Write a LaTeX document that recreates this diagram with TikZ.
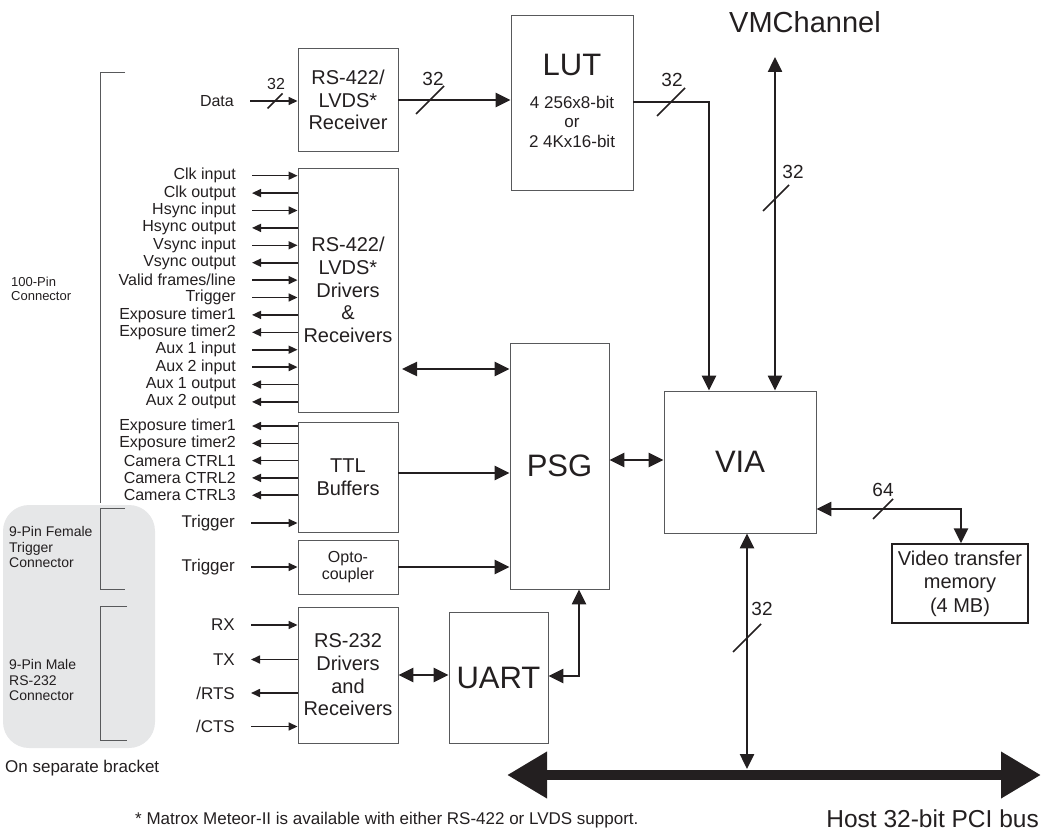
\documentclass[tikz,border=0pt]{standalone}
\usepackage{fontspec}
\setmainfont{Liberation Sans}
\usepackage{tikz}
\usetikzlibrary{arrows.meta,positioning,calc}
\definecolor{mxink}{HTML}{231F20}
\definecolor{mxedge}{HTML}{58595B}
\definecolor{mxgray}{HTML}{E6E7E8}
\newcommand{\fs}[2]{\fontsize{#1}{#2}\selectfont}

\begin{document}
\begin{tikzpicture}[x=1pt,y=-1pt,color=mxink,
  blk/.style={rectangle,draw=mxedge,line width=0.9pt,align=center,inner sep=0pt,font=\fs{20}{22.7}},
  sl/.style={anchor=east,inner sep=0pt,font=\fs{16}{17}},
  sigin/.style={-{Triangle[length=9pt,width=8pt]},line width=1.6pt,shorten <=16pt},
  sigout/.style={-{Triangle[length=9pt,width=8pt]},line width=1.6pt,shorten >=16pt},
  ar/.style={-{Triangle[length=15pt,width=14pt]},line width=2.5pt},
  bus/.style={{Triangle[length=15pt,width=14pt]}-{Triangle[length=15pt,width=14pt]},line width=2.5pt},
  cut/.style={line width=1.6pt},
  bw/.style={inner sep=0pt,font=\fs{19}{19}},
  brk/.style={draw=mxedge,line width=1pt},
  conn/.style={anchor=west,align=left,inner sep=0pt}]
  \useasboundingbox (0,0) rectangle (1041,837);
  % separate bracket area
  \fill[mxgray,rounded corners=26pt] (3,505) rectangle (155,748);
  \draw[brk] (125,73) -- (100,73) -- (100,503);
  \draw[brk] (125,508) -- (100,508) -- (100,589) -- (125,589);
  \draw[brk] (127,606) -- (100,606) -- (100,740) -- (127,740);
  \node[conn,font=\fs{13}{13.5}] (c100) at (11,289) {100-Pin\\Connector};
  \node[conn,font=\fs{14}{15.5}] (c9f) at (9,547) {9-Pin Female\\Trigger\\Connector};
  \node[conn,font=\fs{14}{15.5}] (c9m) at (9,680) {9-Pin Male\\RS-232\\Connector};
  \node[conn,font=\fs{17}{17}] (sep) at (5,768) {On separate bracket};
  % blocks
  \node[blk,minimum width=100pt,minimum height=103pt] (rcv) at (348,100) {RS-422/\\LVDS*\\Receiver};
  \node[blk,minimum width=122pt,minimum height=175pt] (lut) at (572,102.5) {};
  \node[font=\fs{31}{31}] (lutT) at (572,65) {LUT};
  \node[align=center,font=\fs{17}{19.5}] (lutS) at (572,121.5) {4 256x8-bit\\or\\2 4Kx16-bit};
  \node[blk,minimum width=100pt,minimum height=244pt] (drv) at (348,290) {RS-422/\\LVDS*\\Drivers\\\&\\Receivers};
  \node[blk,minimum width=100pt,minimum height=110pt] (ttl) at (348,477) {TTL\\Buffers};
  \node[blk,minimum width=100pt,minimum height=54pt,font=\fs{16}{17.5}] (opto) at (348,567) {Opto-\\coupler};
  \node[blk,minimum width=100pt,minimum height=136pt] (rsdrv) at (348,675) {RS-232\\Drivers\\and\\Receivers};
  \node[blk,minimum width=99pt,minimum height=131pt,font=\fs{31}{31}] (uart) at (498.5,677.5) {UART};
  \node[blk,minimum width=99pt,minimum height=246pt,font=\fs{31}{31}] (psg) at (559.5,466) {PSG};
  \node[blk,minimum width=152pt,minimum height=142pt,font=\fs{31}{31}] (via) at (740,462) {VIA};
  \node[blk,draw=mxink,line width=1.3pt,minimum width=136pt,minimum height=79pt,font=\fs{20}{23.5}] (vtm) at (960,583.5) {Video transfer\\memory\\(4 MB)};
  % LVDS receiver input
  \node[sl] (dta) at (234,101) {Data};
  \draw[sigin] (dta.east) -- (dta.east -| rcv.west);
  \draw[cut] (275,101) +(-7.5,7.5) -- +(7.5,-7.5);
  \node[bw,font=\fs{16}{16}] (wdta) at (276,84) {32};
  % drivers & receivers signals
  \node[sl] (clki) at (236,175.7) {Clk input};         \draw[sigin] (clki.east) -- (clki.east -| drv.west);
  \node[sl] (clko) at (236,193.1) {Clk output};        \draw[sigout] (clko.east -| drv.west) -- (clko.east);
  \node[sl] (hsi) at (236,210.5) {Hsync input};        \draw[sigin] (hsi.east) -- (hsi.east -| drv.west);
  \node[sl] (hso) at (236,227.9) {Hsync output};       \draw[sigout] (hso.east -| drv.west) -- (hso.east);
  \node[sl] (vsi) at (236,245.3) {Vsync input};        \draw[sigin] (vsi.east) -- (vsi.east -| drv.west);
  \node[sl] (vso) at (236,262.7) {Vsync output};       \draw[sigout] (vso.east -| drv.west) -- (vso.east);
  \node[sl] (vfl) at (236,280.1) {Valid frames/line};  \draw[sigin] (vfl.east) -- (vfl.east -| drv.west);
  \node[sl] (trg) at (236,297.5) {Trigger};            \draw[sigin] (trg.east) -- (trg.east -| drv.west);
  \node[sl] (ext1) at (236,314.9) {Exposure timer1};   \draw[sigout] (ext1.east -| drv.west) -- (ext1.east);
  \node[sl] (ext2) at (236,332.3) {Exposure timer2};   \draw[sigout] (ext2.east -| drv.west) -- (ext2.east);
  \node[sl] (ax1i) at (236,349.7) {Aux 1 input};       \draw[sigin] (ax1i.east) -- (ax1i.east -| drv.west);
  \node[sl] (ax2i) at (236,367.1) {Aux 2 input};       \draw[sigin] (ax2i.east) -- (ax2i.east -| drv.west);
  \node[sl] (ax1o) at (236,384.5) {Aux 1 output};      \draw[sigout] (ax1o.east -| drv.west) -- (ax1o.east);
  \node[sl] (ax2o) at (236,401.9) {Aux 2 output};      \draw[sigout] (ax2o.east -| drv.west) -- (ax2o.east);
  % TTL buffers and opto-coupler signals
  \node[sl] (tex1) at (236,426) {Exposure timer1};     \draw[sigout] (tex1.east -| ttl.west) -- (tex1.east);
  \node[sl] (tex2) at (236,443.3) {Exposure timer2};   \draw[sigout] (tex2.east -| ttl.west) -- (tex2.east);
  \node[sl] (cc1) at (236,460.6) {Camera CTRL1};       \draw[sigout] (cc1.east -| ttl.west) -- (cc1.east);
  \node[sl] (cc2) at (236,477.9) {Camera CTRL2};       \draw[sigout] (cc2.east -| ttl.west) -- (cc2.east);
  \node[sl] (cc3) at (236,495.2) {Camera CTRL3};       \draw[sigout] (cc3.east -| ttl.west) -- (cc3.east);
  \node[sl,font=\fs{17}{17}] (ttrg) at (235,523) {Trigger};  \draw[sigin] (ttrg.east) -- (ttrg.east -| ttl.west);
  \node[sl,font=\fs{17}{17}] (otrg) at (235,567) {Trigger};  \draw[sigin] (otrg.east) -- (otrg.east -| opto.west);
  % RS-232 signals
  \node[sl,font=\fs{17}{17}] (rx) at (235,625) {RX};     \draw[sigin] (rx.east) -- (rx.east -| rsdrv.west);
  \node[sl,font=\fs{17}{17}] (tx) at (235,659.5) {TX};   \draw[sigout] (tx.east -| rsdrv.west) -- (tx.east);
  \node[sl,font=\fs{17}{17}] (rts) at (235,693) {/RTS};  \draw[sigout] (rts.east -| rsdrv.west) -- (rts.east);
  \node[sl,font=\fs{17}{17}] (cts) at (235,726.5) {/CTS}; \draw[sigin] (cts.east) -- (cts.east -| rsdrv.west);
  % data path
  \draw[ar] (rcv.east) -- (rcv.east -| lut.west);
  \draw[cut] (430,100) +(-14,14) -- +(14,-14);
  \node[bw] (wlut) at (433,79) {32};
  \coordinate (lo) at (709,102);
  \draw[ar] (lo -| lut.east) -- (lo) -- (lo |- via.north);
  \draw[cut] (671,102) +(-14,14) -- +(14,-14);
  \node[bw] (wvia) at (672,80) {32};
  \coordinate (vmc) at (775,57);
  \draw[bus] (vmc) -- (vmc |- via.north);
  \draw[cut] (776,198) +(-13,13) -- +(13,-13);
  \node[bw] (wvmc) at (793,172) {32};
  \node[font=\fs{29}{29}] (vmcT) at (805,22) {VMChannel};
  % control path
  \coordinate (dp) at (402,369);
  \draw[bus] (dp) -- (dp -| psg.west);
  \draw[ar] ([yshift=4pt]ttl.east) -- ([yshift=4pt]ttl.east -| psg.west);
  \draw[ar] (opto.east) -- (opto.east -| psg.west);
  \draw[bus] ([yshift=2pt]via.west -| psg.east) -- ([yshift=2pt]via.west);
  \draw[bus] (rsdrv.east) -- (rsdrv.east -| uart.west);
  \coordinate (up) at (579,676);
  \draw[bus] (up -| uart.east) -- (up) -- (up |- psg.south);
  % memory and host bus
  \coordinate (vm) at (961,509);
  \draw[bus] (vm -| via.east) -- (vm) -- (vm |- vtm.north);
  \draw[cut] (883,509) +(-10,10) -- +(10,-10);
  \node[bw] (wvtm) at (883,490) {64};
  \coordinate (busL) at (507,775);
  \coordinate (busR) at (1041,775);
  \draw[line width=10pt,{Triangle[length=40pt,width=44pt]}-{Triangle[length=40pt,width=44pt]}] (busL) -- (busR);
  \coordinate (vb) at (747,769);
  \draw[bus] (vb |- via.south) -- (vb);
  \draw[cut] (747,638) +(-14,14) -- +(14,-14);
  \node[bw] (wbus) at (762,609) {32};
  \node[anchor=east,inner sep=0pt,font=\fs{24.5}{25}] (host) at (1039,819) {Host 32-bit PCI bus};
  \node[anchor=west,inner sep=0pt,font=\fs{17}{17}] (fn) at (135,820) {* Matrox Meteor-II is available with either RS-422 or LVDS support.};
\end{tikzpicture}
\end{document}
